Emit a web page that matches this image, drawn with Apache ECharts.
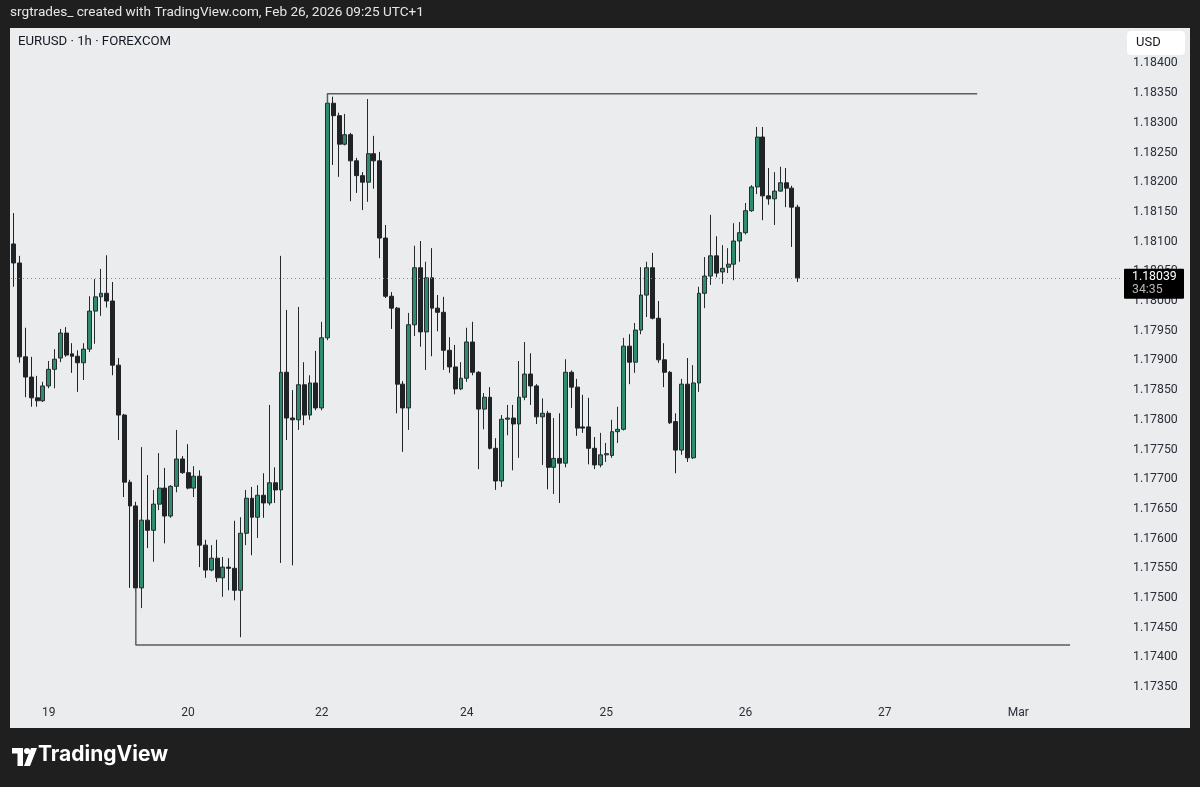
<!DOCTYPE html>
<html>
<head>
<meta charset="utf-8">
<script src="https://cdn.jsdelivr.net/npm/echarts/dist/echarts.min.js"></script>
<style>
html,body{margin:0;padding:0;background:#1f1f1f;}
#chart{width:1200px;height:787px;}
</style>
</head>
<body>
<div id="chart"></div>
<script>
// ---- data (EURUSD 1h, bar index 0 = Feb 18 18:00 UTC+1) ----
const open = [1.18096,1.18064,1.17906,1.17872,1.17837,1.17832,1.17857,1.17885,1.17904,1.17946,
1.17911,1.17907,1.17896,1.17919,1.17983,1.18007,1.18013,1.18000,1.17892,1.17808,
1.17695,1.17655,1.17517,1.17631,1.17614,1.17658,1.17685,1.17638,1.17688,1.17734,
1.17711,1.17685,1.17705,1.17589,1.17547,1.17567,1.17534,1.17552,1.17550,1.17513,
1.17609,1.17668,1.17636,1.17673,1.17660,1.17694,1.17682,1.17880,1.17803,1.17800,
1.17859,1.17808,1.17862,1.17820,1.17938,1.18333,1.18312,1.18264,1.18280,1.18236,
1.18211,1.18200,1.18248,1.18236,1.18106,1.18008,1.17988,1.17860,1.17820,1.17960,
1.18056,1.17948,1.18039,1.17988,1.17981,1.17917,1.17889,1.17852,1.17870,1.17931,
1.17880,1.17818,1.17838,1.17752,1.17697,1.17801,1.17803,1.17793,1.17838,1.17877,
1.17857,1.17805,1.17811,1.17720,1.17735,1.17727,1.17880,1.17855,1.17788,1.17788,
1.17752,1.17724,1.17741,1.17740,1.17780,1.17784,1.17924,1.17897,1.17951,1.18010,
1.18056,1.17971,1.17901,1.17880,1.17797,1.17749,1.17860,1.17736,1.17862,1.18013,
1.18042,1.18076,1.18049,1.18057,1.18062,1.18101,1.18115,1.18152,1.18192,1.18276,
1.18177,1.18172,1.18185,1.18199,1.18190,1.18158];
const close = [1.18064,1.17906,1.17872,1.17837,1.17832,1.17857,1.17885,1.17902,1.17946,1.17909,
1.17907,1.17896,1.17919,1.17983,1.18007,1.18013,1.18000,1.17892,1.17808,1.17695,
1.17655,1.17517,1.17631,1.17614,1.17658,1.17685,1.17638,1.17688,1.17734,1.17711,
1.17685,1.17705,1.17589,1.17547,1.17567,1.17534,1.17552,1.17550,1.17513,1.17609,
1.17668,1.17636,1.17673,1.17660,1.17694,1.17682,1.17880,1.17803,1.17800,1.17859,
1.17808,1.17862,1.17820,1.17938,1.18333,1.18312,1.18264,1.18280,1.18236,1.18211,
1.18200,1.18248,1.18236,1.18106,1.18008,1.17988,1.17860,1.17820,1.17960,1.18056,
1.17948,1.18039,1.17988,1.17981,1.17917,1.17889,1.17852,1.17870,1.17931,1.17880,
1.17818,1.17838,1.17752,1.17697,1.17801,1.17803,1.17793,1.17838,1.17877,1.17857,
1.17805,1.17811,1.17720,1.17735,1.17727,1.17880,1.17855,1.17786,1.17786,1.17752,
1.17724,1.17741,1.17743,1.17780,1.17784,1.17924,1.17897,1.17951,1.18010,1.18056,
1.17971,1.17901,1.17880,1.17795,1.17749,1.17860,1.17736,1.17862,1.18013,1.18042,
1.18076,1.18047,1.18055,1.18062,1.18101,1.18115,1.18152,1.18192,1.18276,1.18177,
1.18172,1.18185,1.18199,1.18190,1.18158,1.18039];
const low = [1.18024,1.17896,1.17838,1.17822,1.17822,1.17830,1.17853,1.17853,1.17897,1.17906,
1.17879,1.17847,1.17867,1.17914,1.17928,1.17975,1.17989,1.17875,1.17766,1.17670,
1.17517,1.17510,1.17483,1.17584,1.17561,1.17648,1.17592,1.17635,1.17678,1.17709,
1.17683,1.17670,1.17552,1.17534,1.17545,1.17527,1.17502,1.17513,1.17496,1.17434,
1.17589,1.17572,1.17601,1.17635,1.17656,1.17660,1.17559,1.17766,1.17555,1.17783,
1.17791,1.17800,1.17816,1.17816,1.17934,1.18229,1.18209,1.18262,1.18168,1.18182,
1.18153,1.18167,1.18189,1.18072,1.18005,1.17953,1.17811,1.17746,1.17783,1.17941,
1.17923,1.17884,1.17907,1.17949,1.17884,1.17879,1.17843,1.17850,1.17864,1.17875,
1.17717,1.17784,1.17750,1.17682,1.17687,1.17774,1.17715,1.17736,1.17833,1.17825,
1.17793,1.17724,1.17683,1.17675,1.17660,1.17720,1.17820,1.17773,1.17778,1.17725,
1.17717,1.17720,1.17729,1.17736,1.17761,1.17782,1.17860,1.17879,1.17944,1.17973,
1.17969,1.17896,1.17855,1.17793,1.17710,1.17741,1.17729,1.17734,1.17847,1.17988,
1.18027,1.18040,1.18029,1.18047,1.18035,1.18066,1.18112,1.18150,1.18180,1.18136,
1.18162,1.18128,1.18184,1.18158,1.18091,1.18032];
const high = [1.18148,1.18076,1.17955,1.17906,1.17874,1.17864,1.17899,1.17919,1.17953,1.17956,
1.17929,1.17917,1.17929,1.18008,1.18037,1.18054,1.18077,1.18032,1.17904,1.17810,
1.17699,1.17662,1.17754,1.17707,1.17682,1.17744,1.17719,1.17690,1.17783,1.17739,
1.17759,1.17722,1.17715,1.17598,1.17589,1.17598,1.17569,1.17567,1.17630,1.17636,
1.17682,1.17687,1.17690,1.17710,1.17825,1.17720,1.18076,1.17985,1.17850,1.17990,
1.17897,1.17875,1.17916,1.17965,1.18350,1.18344,1.18317,1.18315,1.18283,1.18241,
1.18217,1.18340,1.18278,1.18251,1.18128,1.18015,1.17990,1.17865,1.17980,1.18093,
1.18101,1.18066,1.18089,1.18010,1.18007,1.17939,1.17926,1.17897,1.17955,1.17965,
1.17882,1.17845,1.17855,1.17769,1.17808,1.17825,1.17825,1.17899,1.17931,1.17912,
1.17860,1.17836,1.17815,1.17803,1.17811,1.17902,1.17883,1.17869,1.17842,1.17837,
1.17771,1.17778,1.17761,1.17800,1.17822,1.17938,1.17944,1.17963,1.18057,1.18066,
1.18081,1.18000,1.17929,1.17882,1.17811,1.17869,1.17904,1.17892,1.18024,1.18074,
1.18145,1.18109,1.18094,1.18089,1.18131,1.18133,1.18165,1.18195,1.18293,1.18293,
1.18224,1.18217,1.18226,1.18224,1.18194,1.18162];

const totalBars = 191;                       // bars incl. empty future space
const tickBars   = [6, 30, 53, 78, 102, 126, 150, 173];
const tickLabels = ['19','20','22','24','25','26','27','Mar'];
const lastPrice = 1.18039;
const countdown = '34:35';
// drawn horizontal levels: [bar, price] points
const resistance = [[54, 1.18333],[54, 1.18349],[165.9, 1.18349]];
const support    = [[21, 1.17517],[21, 1.17421],[181.9, 1.17421]];

const categories = Array.from({length: totalBars}, (_, i) => {
  const t = tickBars.indexOf(i);
  return t >= 0 ? tickLabels[t] : '';
});
const ohlc = open.map((o, i) => [o, close[i], low[i], high[i]]);

const chart = echarts.init(document.getElementById('chart'), null, {renderer: 'canvas'});
const FONT = 'Roboto, "Noto Sans", sans-serif';
const baseGraphics = [
  {type: 'rect', z: -10, shape: {x: 10, y: 28, width: 1180, height: 700}, style: {fill: '#ebecee'}},
  {type: 'text', left: 10, top: 6, style: {text: 'srgtrades_ created with TradingView.com, Feb 26, 2026 09:25 UTC+1', fill: '#e6e6e6', font: '13.6px ' + FONT}},
  {type: 'text', left: 18, top: 35, z: 10, style: {text: 'EURUSD · 1h · FOREXCOM', fill: '#131722', font: '13.2px ' + FONT}},
  {type: 'rect', z: 10, shape: {x: 1127, y: 31, width: 58, height: 24, r: 4}, style: {fill: '#ffffff'}},
  {type: 'text', z: 11, left: 1136, top: 36, style: {text: 'USD', fill: '#131722', font: '13px ' + FONT}},
  // TradingView logo
  {type: 'polygon', shape: {points: [[12,748],[23,748],[23,766],[17.5,766],[17.5,753.5],[12,753.5]]}, style: {fill: '#ffffff'}},
  {type: 'circle', shape: {cx: 27, cy: 751, r: 3}, style: {fill: '#ffffff'}},
  {type: 'polygon', shape: {points: [[31,748],[37,748],[30,766],[24,766]]}, style: {fill: '#ffffff'}},
  {type: 'text', left: 38, top: 744, style: {text: 'TradingView', fill: '#ffffff', font: 'bold 21px Inter, ' + FONT}}
];
chart.setOption({
  animation: false,
  backgroundColor: 'transparent',
  graphic: baseGraphics,
  grid: {left: 11, right: 80, top: 33.7, bottom: 70.2},
  xAxis: [
    {
      type: 'category', data: categories, boundaryGap: true,
      axisLine: {show: false}, axisTick: {show: false}, splitLine: {show: false},
      axisLabel: {
        interval: (i) => tickBars.indexOf(i) >= 0,
        margin: -10, color: '#2a2e39', fontSize: 12, fontFamily: FONT, hideOverlap: false
      }
    },
    {type: 'value', min: -0.5, max: totalBars - 0.5, show: false}
  ],
  yAxis: {
    type: 'value', position: 'right', min: 1.173, max: 1.1845, interval: 0.0005, scale: true,
    axisLine: {show: false}, axisTick: {show: false}, splitLine: {show: false},
    axisLabel: {
      margin: 13, color: '#2a2e39', fontSize: 12.3, fontFamily: FONT,
      showMinLabel: false, showMaxLabel: false,
      formatter: (v) => v.toFixed(5)
    }
  },
  series: [
    {
      type: 'candlestick', data: ohlc, barWidth: 4.4,
      itemStyle: {color: '#2e8b6f', color0: '#1f2326', borderColor: '#262b2d', borderColor0: '#1f2326', borderWidth: 1},
      markLine: {
        silent: true, symbol: ['none', 'none'], precision: 5,
        lineStyle: {color: '#8a8d93', type: [1, 3], width: 1},
        label: {show: false},
        data: [{yAxis: lastPrice}]
      }
    },
    {
      type: 'line', xAxisIndex: 1, data: resistance, symbol: 'none', silent: true,
      lineStyle: {color: '#5a5d63', width: 1.5}
    },
    {
      type: 'line', xAxisIndex: 1, data: support, symbol: 'none', silent: true,
      lineStyle: {color: '#5a5d63', width: 1.5}
    }
  ]
});

// last-price tag placed through the y scale
const py = chart.convertToPixel({yAxisIndex: 0}, lastPrice);
chart.setOption({
  graphic: baseGraphics.concat([
    {type: 'rect', z: 30, shape: {x: 1124, y: py - 9, width: 60, height: 30, r: 1}, style: {fill: '#000000'}},
    {type: 'text', z: 31, x: 1132, y: py - 7, style: {text: lastPrice.toFixed(5), fill: '#ffffff', font: '12.3px ' + FONT}},
    {type: 'text', z: 31, x: 1132, y: py + 6, style: {text: countdown, fill: '#b8b8b8', font: '12.3px ' + FONT}}
  ])
});
</script>
</body>
</html>
